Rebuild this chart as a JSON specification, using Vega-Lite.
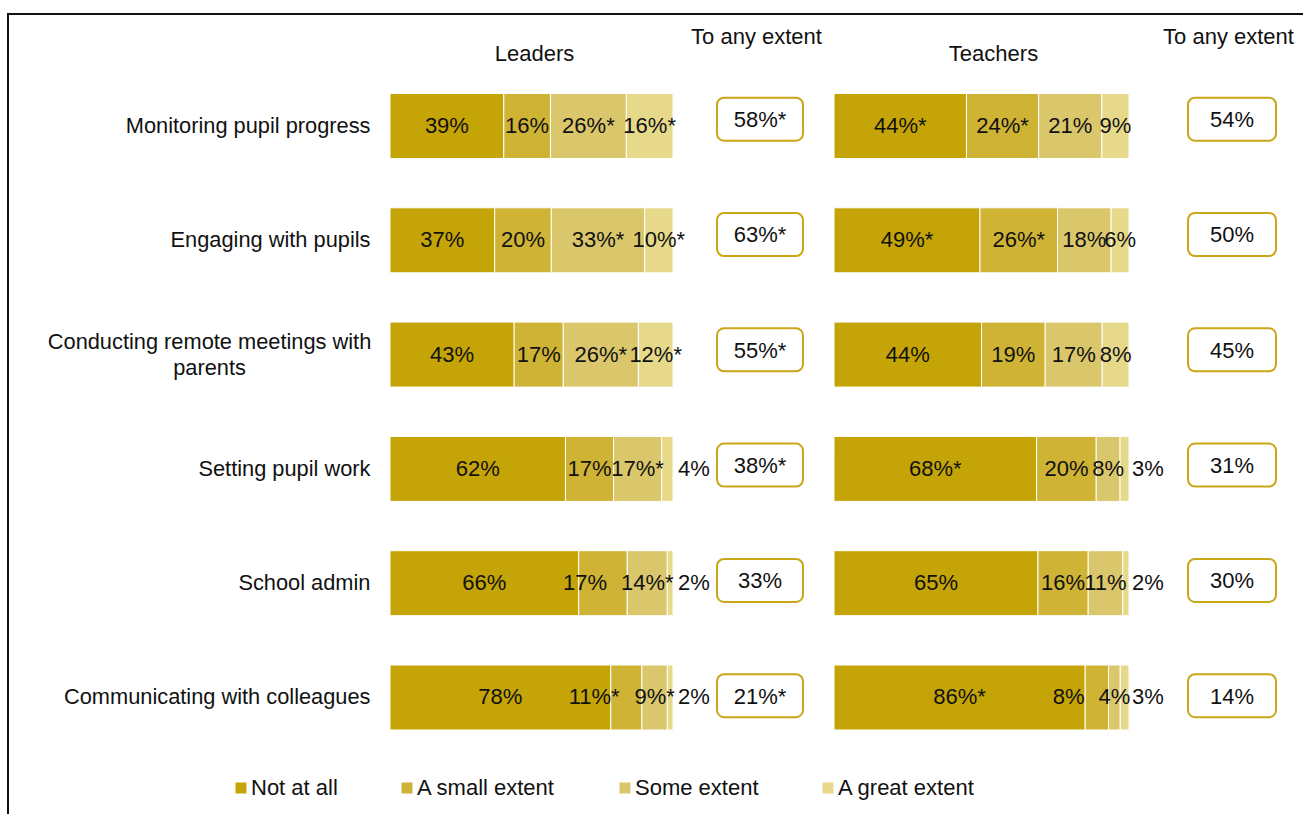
{
  "$schema": "https://vega.github.io/schema/vega-lite/v6.json",
  "width": 1298,
  "height": 803,
  "autosize": {"type": "none"},
  "padding": {"left": 8, "top": 14, "right": -3, "bottom": -3},
  "background": "white",
  "config": {
    "font": "Liberation Sans",
    "view": {"stroke": "#111", "strokeWidth": 2},
    "text": {"fontSize": 22, "color": "#111"}
  },
  "datasets": {
    "bars": [
      {"group": "Leaders", "item": "Monitoring pupil progress", "extent": "Not at all", "value": 39, "sig": false},
      {"group": "Leaders", "item": "Monitoring pupil progress", "extent": "A small extent", "value": 16, "sig": false},
      {"group": "Leaders", "item": "Monitoring pupil progress", "extent": "Some extent", "value": 26, "sig": true},
      {"group": "Leaders", "item": "Monitoring pupil progress", "extent": "A great extent", "value": 16, "sig": true},
      {"group": "Leaders", "item": "Engaging with pupils", "extent": "Not at all", "value": 37, "sig": false},
      {"group": "Leaders", "item": "Engaging with pupils", "extent": "A small extent", "value": 20, "sig": false},
      {"group": "Leaders", "item": "Engaging with pupils", "extent": "Some extent", "value": 33, "sig": true},
      {"group": "Leaders", "item": "Engaging with pupils", "extent": "A great extent", "value": 10, "sig": true},
      {"group": "Leaders", "item": "Conducting remote meetings with parents", "extent": "Not at all", "value": 43, "sig": false},
      {"group": "Leaders", "item": "Conducting remote meetings with parents", "extent": "A small extent", "value": 17, "sig": false},
      {"group": "Leaders", "item": "Conducting remote meetings with parents", "extent": "Some extent", "value": 26, "sig": true},
      {"group": "Leaders", "item": "Conducting remote meetings with parents", "extent": "A great extent", "value": 12, "sig": true},
      {"group": "Leaders", "item": "Setting pupil work", "extent": "Not at all", "value": 62, "sig": false},
      {"group": "Leaders", "item": "Setting pupil work", "extent": "A small extent", "value": 17, "sig": false},
      {"group": "Leaders", "item": "Setting pupil work", "extent": "Some extent", "value": 17, "sig": true},
      {"group": "Leaders", "item": "Setting pupil work", "extent": "A great extent", "value": 4, "sig": false},
      {"group": "Leaders", "item": "School admin", "extent": "Not at all", "value": 66, "sig": false},
      {"group": "Leaders", "item": "School admin", "extent": "A small extent", "value": 17, "sig": false},
      {"group": "Leaders", "item": "School admin", "extent": "Some extent", "value": 14, "sig": true},
      {"group": "Leaders", "item": "School admin", "extent": "A great extent", "value": 2, "sig": false},
      {"group": "Leaders", "item": "Communicating with colleagues", "extent": "Not at all", "value": 78, "sig": false},
      {"group": "Leaders", "item": "Communicating with colleagues", "extent": "A small extent", "value": 11, "sig": true},
      {"group": "Leaders", "item": "Communicating with colleagues", "extent": "Some extent", "value": 9, "sig": true},
      {"group": "Leaders", "item": "Communicating with colleagues", "extent": "A great extent", "value": 2, "sig": false},
      {"group": "Teachers", "item": "Monitoring pupil progress", "extent": "Not at all", "value": 44, "sig": true},
      {"group": "Teachers", "item": "Monitoring pupil progress", "extent": "A small extent", "value": 24, "sig": true},
      {"group": "Teachers", "item": "Monitoring pupil progress", "extent": "Some extent", "value": 21, "sig": false},
      {"group": "Teachers", "item": "Monitoring pupil progress", "extent": "A great extent", "value": 9, "sig": false},
      {"group": "Teachers", "item": "Engaging with pupils", "extent": "Not at all", "value": 49, "sig": true},
      {"group": "Teachers", "item": "Engaging with pupils", "extent": "A small extent", "value": 26, "sig": true},
      {"group": "Teachers", "item": "Engaging with pupils", "extent": "Some extent", "value": 18, "sig": false},
      {"group": "Teachers", "item": "Engaging with pupils", "extent": "A great extent", "value": 6, "sig": false},
      {"group": "Teachers", "item": "Conducting remote meetings with parents", "extent": "Not at all", "value": 44, "sig": false},
      {"group": "Teachers", "item": "Conducting remote meetings with parents", "extent": "A small extent", "value": 19, "sig": false},
      {"group": "Teachers", "item": "Conducting remote meetings with parents", "extent": "Some extent", "value": 17, "sig": false},
      {"group": "Teachers", "item": "Conducting remote meetings with parents", "extent": "A great extent", "value": 8, "sig": false},
      {"group": "Teachers", "item": "Setting pupil work", "extent": "Not at all", "value": 68, "sig": true},
      {"group": "Teachers", "item": "Setting pupil work", "extent": "A small extent", "value": 20, "sig": false},
      {"group": "Teachers", "item": "Setting pupil work", "extent": "Some extent", "value": 8, "sig": false},
      {"group": "Teachers", "item": "Setting pupil work", "extent": "A great extent", "value": 3, "sig": false},
      {"group": "Teachers", "item": "School admin", "extent": "Not at all", "value": 65, "sig": false},
      {"group": "Teachers", "item": "School admin", "extent": "A small extent", "value": 16, "sig": false},
      {"group": "Teachers", "item": "School admin", "extent": "Some extent", "value": 11, "sig": false},
      {"group": "Teachers", "item": "School admin", "extent": "A great extent", "value": 2, "sig": false},
      {"group": "Teachers", "item": "Communicating with colleagues", "extent": "Not at all", "value": 86, "sig": true},
      {"group": "Teachers", "item": "Communicating with colleagues", "extent": "A small extent", "value": 8, "sig": false},
      {"group": "Teachers", "item": "Communicating with colleagues", "extent": "Some extent", "value": 4, "sig": false},
      {"group": "Teachers", "item": "Communicating with colleagues", "extent": "A great extent", "value": 3, "sig": false}
    ],
    "any": [
      {"group": "Leaders", "item": "Monitoring pupil progress", "label": "58%*"},
      {"group": "Leaders", "item": "Engaging with pupils", "label": "63%*"},
      {"group": "Leaders", "item": "Conducting remote meetings with parents", "label": "55%*"},
      {"group": "Leaders", "item": "Setting pupil work", "label": "38%*"},
      {"group": "Leaders", "item": "School admin", "label": "33%"},
      {"group": "Leaders", "item": "Communicating with colleagues", "label": "21%*"},
      {"group": "Teachers", "item": "Monitoring pupil progress", "label": "54%"},
      {"group": "Teachers", "item": "Engaging with pupils", "label": "50%"},
      {"group": "Teachers", "item": "Conducting remote meetings with parents", "label": "45%"},
      {"group": "Teachers", "item": "Setting pupil work", "label": "31%"},
      {"group": "Teachers", "item": "School admin", "label": "30%"},
      {"group": "Teachers", "item": "Communicating with colleagues", "label": "14%"}
    ]
  },
  "resolve": {
    "scale": {"x": "independent", "y": "independent"},
    "axis": {"x": "independent", "y": "independent"}
  },
  "layer": [
    {
      "data": {"name": "bars"},
      "transform": [
        {"filter": "datum.group == 'Leaders'"},
        {"calculate": "indexof(['Not at all','A small extent','Some extent','A great extent'], datum.extent)", "as": "ord"},
        {"calculate": "datum.value + '%' + (datum.sig ? '*' : '')", "as": "label"},
        {"window": [{"op": "sum", "field": "value", "as": "cum"}], "groupby": ["item"], "sort": [{"field": "ord"}], "frame": [null, 0]},
        {"joinaggregate": [{"op": "sum", "field": "value", "as": "total"}], "groupby": ["item"]},
        {"calculate": "(datum.cum - datum.value / 2) / datum.total", "as": "mid"},
        {"calculate": "datum.cum / datum.total", "as": "end"},
        {"calculate": "(length(toString(datum.value)) * 0.556 + 0.889 + (datum.sig ? 0.389 : 0)) * 22 / 283", "as": "w"},
        {"calculate": "datum.extent == 'A great extent' && datum.value <= 4", "as": "out"},
        {"calculate": "datum.out ? datum.end + 21 / 283 - datum.w / 2 : datum.mid - datum.w / 2", "as": "l0"},
        {"window": [{"op": "lead", "field": "l0", "as": "n0"}], "groupby": ["item"], "sort": [{"field": "ord"}], "frame": [null, null]},
        {"calculate": "datum.n0 == null || datum.mid + datum.w / 2 <= datum.n0 + 3 / 283 ? datum.mid : datum.n0 - 14 / 283 - datum.w / 2", "as": "x1"},
        {"calculate": "datum.out ? datum.end + 21 / 283 - datum.w / 2 : datum.x1 - datum.w / 2", "as": "l1"},
        {"window": [{"op": "lead", "field": "l1", "as": "n1"}], "groupby": ["item"], "sort": [{"field": "ord"}], "frame": [null, null]},
        {"calculate": "datum.n1 == null || datum.mid + datum.w / 2 <= datum.n1 + 3 / 283 ? datum.mid : datum.n1 - 14 / 283 - datum.w / 2", "as": "x2"},
        {"calculate": "datum.out ? datum.end + 21 / 283 - datum.w / 2 : datum.x2 - datum.w / 2", "as": "l2"},
        {"window": [{"op": "lead", "field": "l2", "as": "n2"}], "groupby": ["item"], "sort": [{"field": "ord"}], "frame": [null, null]},
        {"calculate": "datum.n2 == null || datum.mid + datum.w / 2 <= datum.n2 + 3 / 283 ? datum.mid : datum.n2 - 14 / 283 - datum.w / 2", "as": "xl"}
      ],
      "encoding": {
        "y": {
          "field": "item", "type": "nominal",
          "sort": ["Monitoring pupil progress", "Engaging with pupils", "Conducting remote meetings with parents", "Setting pupil work", "School admin", "Communicating with colleagues"],
          "scale": {"paddingInner": 0.4313, "paddingOuter": 0.7284, "align": 0.4775},
          "axis": {
            "orient": "left", "offset": -382, "title": null, "domain": false, "ticks": false,
            "labelFontSize": 21.8, "labelColor": "#111", "labelLimit": 0, "labelLineHeight": 26,
            "labelExpr": "datum.value == 'Conducting remote meetings with parents' ? ['Conducting remote meetings with', 'parents'] : datum.value",
            "labelAlign": {"condition": {"test": "datum.value == 'Conducting remote meetings with parents'", "value": "center"}, "value": "right"},
            "labelPadding": {"condition": {"test": "datum.value == 'Conducting remote meetings with parents'", "value": 181}, "value": 20},
            "labelOffset": {"condition": {"test": "datum.value == 'Conducting remote meetings with parents'", "value": -13}, "value": 0}
          }
        }
      },
      "layer": [
        {
          "mark": {"type": "bar", "stroke": "white", "strokeWidth": 1},
          "encoding": {
            "x": {"field": "value", "type": "quantitative", "stack": "normalize",
                  "scale": {"domain": [0, 1], "range": [382, 665]},
                  "axis": {"orient": "top", "title": "Leaders", "titleX": 526, "labels": false, "ticks": false, "domain": false, "grid": false, "offset": -51, "titlePadding": 0, "titleFontSize": 22, "titleFontWeight": "normal", "titleColor": "#111"}},
            "color": {"field": "extent", "type": "nominal",
                      "scale": {"domain": ["Not at all", "A small extent", "Some extent", "A great extent"], "range": ["#C4A406", "#CFB335", "#DAC66B", "#E6D98A"]},
                      "legend": {"orient": "none", "legendX": 222, "legendY": 763, "direction": "horizontal", "title": null, "symbolType": "square", "symbolSize": 121, "symbolStrokeWidth": 0, "labelFontSize": 22, "labelColor": "#111", "labelOffset": -1, "columnPadding": 58, "labelLimit": 0}},
            "order": {"field": "ord", "type": "quantitative"}
          }
        },
        {
          "transform": [{"filter": "!datum.out"}],
          "mark": {"type": "text", "fontSize": 22, "color": "#111"},
          "encoding": {
            "x": {"field": "xl", "type": "quantitative",
                  "axis": {"orient": "top", "title": "Leaders", "titleX": 526, "labels": false, "ticks": false, "domain": false, "grid": false, "offset": -51, "titlePadding": 0, "titleFontSize": 22, "titleFontWeight": "normal", "titleColor": "#111"}},
            "text": {"field": "label"}
          }
        },
        {
          "transform": [{"filter": "datum.out"}],
          "mark": {"type": "text", "align": "center", "dx": 21, "fontSize": 22, "color": "#111"},
          "encoding": {
            "x": {"field": "end", "type": "quantitative",
                  "axis": {"orient": "top", "title": "Leaders", "titleX": 526, "labels": false, "ticks": false, "domain": false, "grid": false, "offset": -51, "titlePadding": 0, "titleFontSize": 22, "titleFontWeight": "normal", "titleColor": "#111"}},
            "text": {"field": "label"}
          }
        }
      ]
    },
    {
      "data": {"name": "any"},
      "transform": [{"filter": "datum.group == 'Leaders'"}],
      "encoding": {
        "y": {
          "field": "item", "type": "nominal",
          "sort": ["Monitoring pupil progress", "Engaging with pupils", "Conducting remote meetings with parents", "Setting pupil work", "School admin", "Communicating with colleagues"],
          "scale": {"paddingInner": 0.627, "paddingOuter": 0.7958, "align": 0.4561},
          "axis": null
        }
      },
      "layer": [
        {
          "mark": {"type": "bar", "fill": "white", "stroke": "#C9A716", "strokeWidth": 2, "cornerRadius": 7},
          "encoding": {
            "x": {"datum": 0, "type": "quantitative", "scale": {"domain": [0, 1], "range": [709, 795]},
                  "axis": {"orient": "top", "title": "To any extent", "titleX": 748, "labels": false, "ticks": false, "domain": false, "grid": false, "offset": -34, "titlePadding": 0, "titleFontSize": 22, "titleFontWeight": "normal", "titleColor": "#111"}},
            "x2": {"datum": 1}
          }
        },
        {
          "mark": {"type": "text", "fontSize": 22, "color": "#111", "dy": 1},
          "encoding": {
            "x": {"datum": 0.5, "type": "quantitative",
                  "axis": {"orient": "top", "title": "To any extent", "titleX": 748, "labels": false, "ticks": false, "domain": false, "grid": false, "offset": -34, "titlePadding": 0, "titleFontSize": 22, "titleFontWeight": "normal", "titleColor": "#111"}},
            "text": {"field": "label"}
          }
        }
      ]
    },
    {
      "data": {"name": "bars"},
      "transform": [
        {"filter": "datum.group == 'Teachers'"},
        {"calculate": "indexof(['Not at all','A small extent','Some extent','A great extent'], datum.extent)", "as": "ord"},
        {"calculate": "datum.value + '%' + (datum.sig ? '*' : '')", "as": "label"},
        {"window": [{"op": "sum", "field": "value", "as": "cum"}], "groupby": ["item"], "sort": [{"field": "ord"}], "frame": [null, 0]},
        {"joinaggregate": [{"op": "sum", "field": "value", "as": "total"}], "groupby": ["item"]},
        {"calculate": "(datum.cum - datum.value / 2) / datum.total", "as": "mid"},
        {"calculate": "datum.cum / datum.total", "as": "end"},
        {"calculate": "(length(toString(datum.value)) * 0.556 + 0.889 + (datum.sig ? 0.389 : 0)) * 22 / 295", "as": "w"},
        {"calculate": "datum.extent == 'A great extent' && datum.value <= 4", "as": "out"},
        {"calculate": "datum.out ? datum.end + 19 / 295 - datum.w / 2 : datum.mid - datum.w / 2", "as": "l0"},
        {"window": [{"op": "lead", "field": "l0", "as": "n0"}], "groupby": ["item"], "sort": [{"field": "ord"}], "frame": [null, null]},
        {"calculate": "datum.n0 == null || datum.mid + datum.w / 2 <= datum.n0 + 3 / 295 ? datum.mid : datum.n0 - 14 / 295 - datum.w / 2", "as": "x1"},
        {"calculate": "datum.out ? datum.end + 19 / 295 - datum.w / 2 : datum.x1 - datum.w / 2", "as": "l1"},
        {"window": [{"op": "lead", "field": "l1", "as": "n1"}], "groupby": ["item"], "sort": [{"field": "ord"}], "frame": [null, null]},
        {"calculate": "datum.n1 == null || datum.mid + datum.w / 2 <= datum.n1 + 3 / 295 ? datum.mid : datum.n1 - 14 / 295 - datum.w / 2", "as": "x2"},
        {"calculate": "datum.out ? datum.end + 19 / 295 - datum.w / 2 : datum.x2 - datum.w / 2", "as": "l2"},
        {"window": [{"op": "lead", "field": "l2", "as": "n2"}], "groupby": ["item"], "sort": [{"field": "ord"}], "frame": [null, null]},
        {"calculate": "datum.n2 == null || datum.mid + datum.w / 2 <= datum.n2 + 3 / 295 ? datum.mid : datum.n2 - 14 / 295 - datum.w / 2", "as": "xl"}
      ],
      "encoding": {
        "y": {
          "field": "item", "type": "nominal",
          "sort": ["Monitoring pupil progress", "Engaging with pupils", "Conducting remote meetings with parents", "Setting pupil work", "School admin", "Communicating with colleagues"],
          "scale": {"paddingInner": 0.4313, "paddingOuter": 0.7284, "align": 0.4775},
          "axis": null
        }
      },
      "layer": [
        {
          "mark": {"type": "bar", "stroke": "white", "strokeWidth": 1},
          "encoding": {
            "x": {"field": "value", "type": "quantitative", "stack": "normalize",
                  "scale": {"domain": [0, 1], "range": [826, 1121]},
                  "axis": {"orient": "top", "title": "Teachers", "titleX": 985, "labels": false, "ticks": false, "domain": false, "grid": false, "offset": -51, "titlePadding": 0, "titleFontSize": 22, "titleFontWeight": "normal", "titleColor": "#111"}},
            "color": {"field": "extent", "type": "nominal",
                      "scale": {"domain": ["Not at all", "A small extent", "Some extent", "A great extent"], "range": ["#C4A406", "#CFB335", "#DAC66B", "#E6D98A"]},
                      "legend": {"orient": "none", "legendX": 222, "legendY": 763, "direction": "horizontal", "title": null, "symbolType": "square", "symbolSize": 121, "symbolStrokeWidth": 0, "labelFontSize": 22, "labelColor": "#111", "labelOffset": -1, "columnPadding": 58, "labelLimit": 0}},
            "order": {"field": "ord", "type": "quantitative"}
          }
        },
        {
          "transform": [{"filter": "!datum.out"}],
          "mark": {"type": "text", "fontSize": 22, "color": "#111"},
          "encoding": {
            "x": {"field": "xl", "type": "quantitative",
                  "axis": {"orient": "top", "title": "Teachers", "titleX": 985, "labels": false, "ticks": false, "domain": false, "grid": false, "offset": -51, "titlePadding": 0, "titleFontSize": 22, "titleFontWeight": "normal", "titleColor": "#111"}},
            "text": {"field": "label"}
          }
        },
        {
          "transform": [{"filter": "datum.out"}],
          "mark": {"type": "text", "align": "center", "dx": 19, "fontSize": 22, "color": "#111"},
          "encoding": {
            "x": {"field": "end", "type": "quantitative",
                  "axis": {"orient": "top", "title": "Teachers", "titleX": 985, "labels": false, "ticks": false, "domain": false, "grid": false, "offset": -51, "titlePadding": 0, "titleFontSize": 22, "titleFontWeight": "normal", "titleColor": "#111"}},
            "text": {"field": "label"}
          }
        }
      ]
    },
    {
      "data": {"name": "any"},
      "transform": [{"filter": "datum.group == 'Teachers'"}],
      "encoding": {
        "y": {
          "field": "item", "type": "nominal",
          "sort": ["Monitoring pupil progress", "Engaging with pupils", "Conducting remote meetings with parents", "Setting pupil work", "School admin", "Communicating with colleagues"],
          "scale": {"paddingInner": 0.627, "paddingOuter": 0.7958, "align": 0.4561},
          "axis": null
        }
      },
      "layer": [
        {
          "mark": {"type": "bar", "fill": "white", "stroke": "#C9A716", "strokeWidth": 2, "cornerRadius": 7},
          "encoding": {
            "x": {"datum": 0, "type": "quantitative", "scale": {"domain": [0, 1], "range": [1180, 1268]},
                  "axis": {"orient": "top", "title": "To any extent", "titleX": 1220, "labels": false, "ticks": false, "domain": false, "grid": false, "offset": -34, "titlePadding": 0, "titleFontSize": 22, "titleFontWeight": "normal", "titleColor": "#111"}},
            "x2": {"datum": 1}
          }
        },
        {
          "mark": {"type": "text", "fontSize": 22, "color": "#111", "dy": 1},
          "encoding": {
            "x": {"datum": 0.5, "type": "quantitative",
                  "axis": {"orient": "top", "title": "To any extent", "titleX": 1220, "labels": false, "ticks": false, "domain": false, "grid": false, "offset": -34, "titlePadding": 0, "titleFontSize": 22, "titleFontWeight": "normal", "titleColor": "#111"}},
            "text": {"field": "label"}
          }
        }
      ]
    }
  ]
}
